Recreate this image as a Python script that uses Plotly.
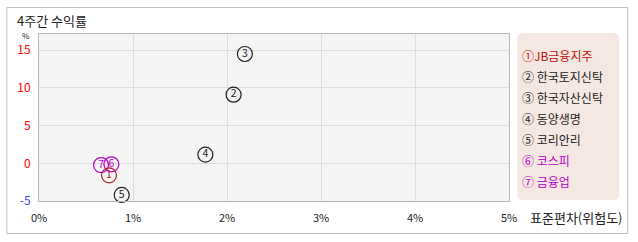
import plotly.graph_objects as go

# ---- data ----
names = ["JB금융지주", "한국토지신탁", "한국자산신탁", "동양생명", "코리안리", "코스피", "금융업"]
nums = ["1", "2", "3", "4", "5", "6", "7"]
circled = ["①", "②", "③", "④", "⑤", "⑥", "⑦"]
risk = [0.745, 2.07, 2.19, 1.77, 0.88, 0.77, 0.66]       # 표준편차 (%)
ret = [-1.6, 9.1, 14.5, 1.15, -4.2, -0.13, -0.23]        # 4주간 수익률 (%)
colors = ["#b02020", "#222222", "#222222", "#222222", "#222222", "#b800c8", "#b800c8"]
legend_colors = ["#c01010", "#222222", "#222222", "#222222", "#222222", "#b800c8", "#b800c8"]
xtick_vals = [0, 1, 2, 3, 4, 5]
xtick_text = ["0%", "1%", "2%", "3%", "4%", "5%"]
ytick_vals = [-5, 0, 5, 10, 15]
ytick_colors = ["#3c3cff", "#ff0000", "#ff0000", "#ff0000", "#ff0000"]

W, H = 638, 242
L, R, T, B = 38.7, 508.7, 34, 201
FONT = "Noto Sans CJK KR, Dotum, Gulim, sans-serif"


def fx(px):
    return (px - L) / (R - L)


def fy(py):
    return (B - py) / (B - T)


fig = go.Figure()

order = [4, 3, 1, 2, 6, 5, 0]
for i in order:
    fig.add_trace(go.Scatter(
        x=[risk[i]], y=[ret[i]], mode="markers+text",
        marker=dict(symbol="circle-open", size=15, color=colors[i], line=dict(width=1.2, color=colors[i])),
        text=[nums[i]], textposition="middle center",
        textfont=dict(family=FONT, size=10.5, color=colors[i]),
        showlegend=False, hoverinfo="skip", cliponaxis=False,
    ))

shapes = []
annotations = []

# outer frame
shapes.append(dict(type="rect", xref="paper", yref="paper",
                   x0=fx(6.5), x1=fx(627.5), y0=fy(233.5), y1=fy(7.5),
                   line=dict(color="#c0c0c0", width=1), fillcolor="rgba(0,0,0,0)", layer="below"))

# legend box (rounded)
lx0, lx1, ly0, ly1 = 517, 619, 33, 200
r = 6
path = (f"M {fx(lx0 + r)},{fy(ly0)} L {fx(lx1 - r)},{fy(ly0)} "
        f"Q {fx(lx1)},{fy(ly0)} {fx(lx1)},{fy(ly0 + r)} "
        f"L {fx(lx1)},{fy(ly1 - r)} Q {fx(lx1)},{fy(ly1)} {fx(lx1 - r)},{fy(ly1)} "
        f"L {fx(lx0 + r)},{fy(ly1)} Q {fx(lx0)},{fy(ly1)} {fx(lx0)},{fy(ly1 - r)} "
        f"L {fx(lx0)},{fy(ly0 + r)} Q {fx(lx0)},{fy(ly0)} {fx(lx0 + r)},{fy(ly0)} Z")
shapes.append(dict(type="path", xref="paper", yref="paper", path=path,
                   fillcolor="#f5e8e2", line=dict(width=0), layer="below"))

for k in range(len(names)):
    annotations.append(dict(
        xref="paper", yref="paper", x=fx(520), y=fy(55 + 21 * k),
        xanchor="left", yanchor="middle", showarrow=False,
        text=circled[k] + ("" if k == 0 else " ") + names[k],
        font=dict(family=FONT, size=12, color=legend_colors[k]),
    ))

# title
annotations.append(dict(xref="paper", yref="paper", x=fx(15), y=fy(20),
                        xanchor="left", yanchor="middle", showarrow=False,
                        text="4주간 수익률", font=dict(family=FONT, size=13, color="#222222")))
# y unit
annotations.append(dict(xref="paper", yref="paper", x=fx(26), y=fy(35),
                        xanchor="center", yanchor="middle", showarrow=False, borderpad=0,
                        text="%", font=dict(family=FONT, size=8, color="#222222")))
# x axis title
annotations.append(dict(xref="paper", yref="paper", x=fx(528), y=fy(217),
                        xanchor="left", yanchor="middle", showarrow=False,
                        text="표준편차(위험도)", font=dict(family=FONT, size=13, color="#222222")))

ytick_text = [f"<span style='color:{c}'>{v}</span>" for v, c in zip(ytick_vals, ytick_colors)]

fig.update_layout(
    width=W, height=H,
    margin=dict(l=L, r=W - R, t=T, b=H - B, pad=0),
    paper_bgcolor="white", plot_bgcolor="#f4f4f4",
    shapes=shapes, annotations=annotations,
    font=dict(family=FONT, size=11, color="#222222"),
    xaxis=dict(range=[0, 5], tickvals=xtick_vals, ticktext=xtick_text,
               showgrid=True, gridcolor="#dcdcdc", gridwidth=1,
               zeroline=False, showline=True, linecolor="#b8b8b8", mirror=True,
               ticks="", ticklen=0, ticklabelstandoff=7,
               tickfont=dict(size=11, color="#222222"),
               fixedrange=True),
    yaxis=dict(range=[-5, 17.15], tickvals=ytick_vals, ticktext=ytick_text,
               showgrid=True, gridcolor="#dcdcdc", gridwidth=1,
               zeroline=False, showline=True, linecolor="#b8b8b8", mirror=True,
               ticks="", ticklen=0, ticklabelstandoff=5,
               tickfont=dict(size=12), fixedrange=True),
)

fig.write_html("out.html")
